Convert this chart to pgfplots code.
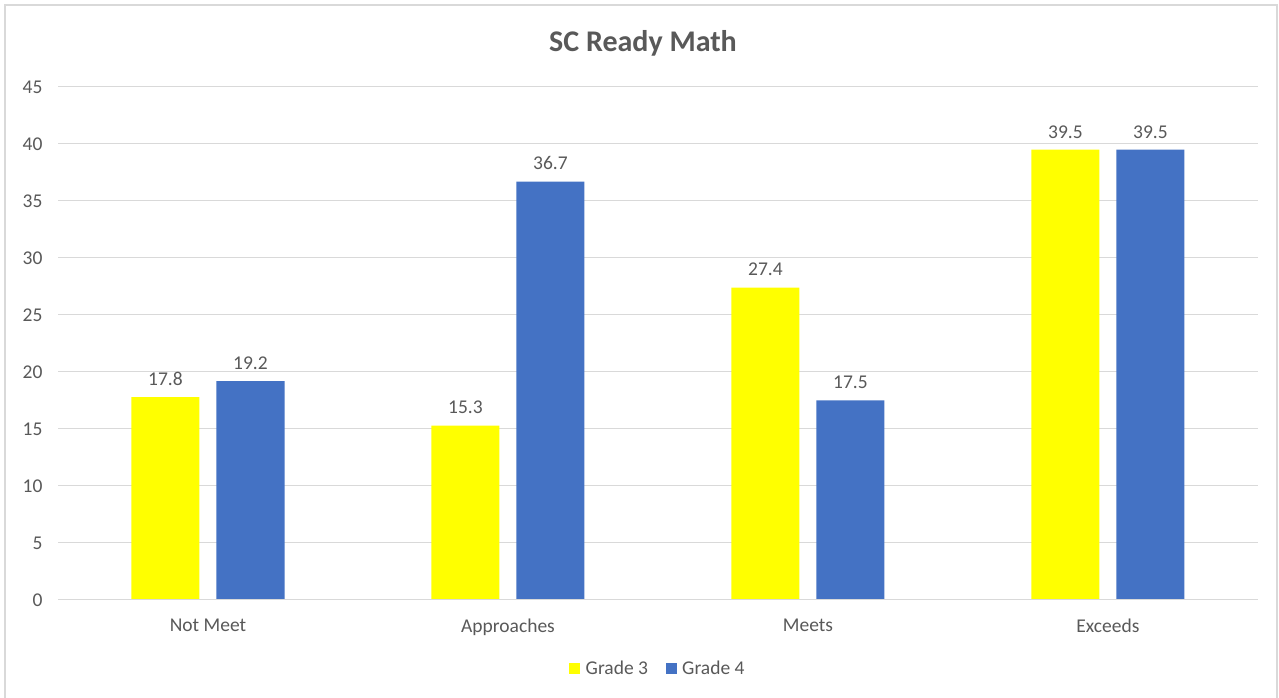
\documentclass[border=0pt]{standalone}
\usepackage{pgfplots}
\pgfplotsset{compat=1.18}
\usepackage{fontspec}
\setmainfont{Carlito}
\definecolor{txt}{HTML}{595959}
\definecolor{gridc}{HTML}{D9D9D9}
\definecolor{gthree}{HTML}{FFFF00}
\definecolor{gfour}{HTML}{4472C4}
\begin{document}
\begin{tikzpicture}[x=1bp,y=1bp]
\useasboundingbox (0,0) rectangle (1279,698);
\fill[white] (0,0) rectangle (1279,698);
\draw[gridc,line width=1.5bp] (5,-5) -- (5,693) -- (1277,693) -- (1277,-5);
\node[font=\fontsize{30bp}{36bp}\selectfont\bfseries,text=txt] at (643,655) {SC Ready Math};
\begin{axis}[
  at={(58bp,98bp)}, anchor=south west,
  scale only axis, width=1200bp, height=513bp,
  ybar=17bp, bar width=68bp,
  xmin=-0.5, xmax=3.5, ymin=0, ymax=45,
  xtick={0,1,2,3}, xticklabels={Not Meet,Approaches,Meets,Exceeds},
  ytick={0,5,...,45},
  /pgf/number format/assume math mode=true,
  ymajorgrids, grid style={gridc,line width=1bp},
  axis line style={draw=none},
  axis x line*=bottom,
  axis y line*=left,
  major tick length=0pt,
  ticklabel style={font=\fontsize{19.5bp}{23bp}\selectfont,text=txt},
  xticklabel style={yshift=-15bp},
  yticklabel style={xshift=-12bp},
  nodes near coords={\pgfmathprintnumber[fixed,fixed zerofill,precision=1]{\pgfplotspointmeta}},
  nodes near coords style={font=\fontsize{19.5bp}{23bp}\selectfont,text=txt,yshift=8bp},
  legend style={at={(0.5,-0.1326)}, anchor=center, draw=none, legend columns=2,
    font=\fontsize{19.5bp}{23bp}\selectfont, text=txt,
    /tikz/every odd column/.append style={column sep=0bp},
    /tikz/every even column/.append style={column sep=16bp}},
  legend image code/.code={\fill[#1] (0bp,-5.5bp) rectangle (11bp,5.5bp);},
]
\addplot[draw=none, fill=gthree] coordinates {(0,17.8) (1,15.3) (2,27.4) (3,39.5)};
\addplot[draw=none, fill=gfour] coordinates {(0,19.2) (1,36.7) (2,17.5) (3,39.5)};
\legend{\,Grade 3,\,Grade 4}
\draw[gridc,line width=1.5bp] (axis cs:-0.5,0) -- (axis cs:3.5,0);
\end{axis}
\end{tikzpicture}
\end{document}
